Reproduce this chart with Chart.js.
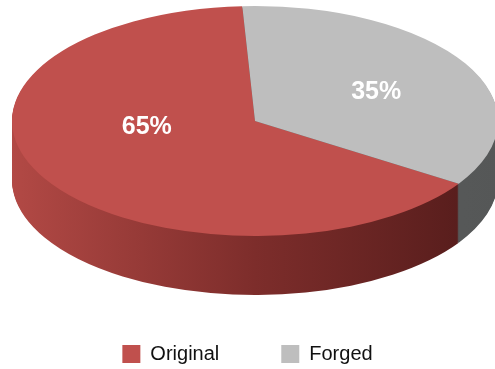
<!DOCTYPE html>
<html>
<head>
<meta charset="utf-8">
<script src="https://cdn.jsdelivr.net/npm/chart.js@4"></script>
<style>
  html, body { margin: 0; padding: 0; background: #ffffff; }
  #wrap { width: 495px; height: 369px; }
</style>
</head>
<body>
<div id="wrap"><canvas id="pie"></canvas></div>
<script>
var categories = ['Original', 'Forged'];
var shares = [65, 35];
var topColors = ['#c0504d', '#bebebe'];
var sideColors = [['#b24945', '#7d2d2b', '#521b1a'], ['#6a6c6c', '#5c5e5e', '#555757']];

// ellipse the flat pie gets squashed into
var ell = { cx: 255, cy: 121, rx: 243, ry: 115, depth: 59 };

function toScreen(arc, px, py) {
    var r0 = arc.outerRadius;
    return {
        x: ell.cx + (px - arc.x) * ell.rx / r0,
        y: ell.cy + (py - arc.y) * ell.ry / r0
    };
}

function squash(ctx, arc, dy) {
    var r0 = arc.outerRadius;
    ctx.translate(ell.cx, ell.cy + dy);
    ctx.scale(ell.rx / r0, ell.ry / r0);
    ctx.translate(-arc.x, -arc.y);
}

var pie3d = {
    id: 'pie3d',
    beforeDatasetsDraw: function(chart) {
        var ctx = chart.ctx;
        var arcs = chart.getDatasetMeta(0).data;
        var a0 = arcs[0];
        // side wall: stack of darker copies of each arc
        var fills = arcs.map(function(arc, i) {
            var g = ctx.createLinearGradient(a0.x - a0.outerRadius, 0, a0.x + a0.outerRadius, 0);
            g.addColorStop(0, sideColors[i][0]);
            g.addColorStop(0.5, sideColors[i][1]);
            g.addColorStop(1, sideColors[i][2]);
            return g;
        });
        for (var d = ell.depth; d >= 1; d--) {
            ctx.save();
            squash(ctx, a0, d);
            arcs.forEach(function(arc, i) {
                var copy = Object.create(arc);
                copy.options = Object.assign({}, arc.options, { backgroundColor: fills[i], borderWidth: 0 });
                copy.draw(ctx);
            });
            ctx.restore();
        }
        ctx.save();
        squash(ctx, a0, 0);
    },
    afterDatasetsDraw: function(chart) {
        var ctx = chart.ctx;
        ctx.restore();
        var arcs = chart.getDatasetMeta(0).data;
        ctx.save();
        ctx.fillStyle = '#ffffff';
        ctx.font = 'bold 25px "Liberation Sans", Arial, sans-serif';
        ctx.textAlign = 'center';
        ctx.textBaseline = 'middle';
        arcs.forEach(function(arc, i) {
            var p = arc.tooltipPosition();
            var s = toScreen(arc, p.x, p.y);
            // pull labels toward the far side (perspective of the original)
            var y = ell.cy + (s.y - ell.cy) * 0.61 - 11.5;
            ctx.fillText(shares[i] + '%', s.x + (i === 1 ? 16 : -3), y);
        });
        ctx.restore();
    }
};

new Chart(document.getElementById('pie'), {
    type: 'pie',
    data: {
        labels: categories,
        datasets: [{
            data: shares,
            backgroundColor: topColors,
            borderWidth: 0,
            clip: false
        }]
    },
    options: {
        responsive: true,
        maintainAspectRatio: false,
        animation: false,
        rotation: 123,
        events: [],
        layout: { padding: 0 },
        plugins: {
            legend: {
                position: 'bottom',
                maxHeight: 87,
                labels: {
                    boxWidth: 18,
                    boxHeight: 18,
                    padding: 62,
                    color: '#111111',
                    font: { family: '"Liberation Sans", Arial, sans-serif', size: 20 }
                }
            },
            tooltip: { enabled: false }
        }
    },
    plugins: [pie3d]
});
</script>
</body>
</html>
